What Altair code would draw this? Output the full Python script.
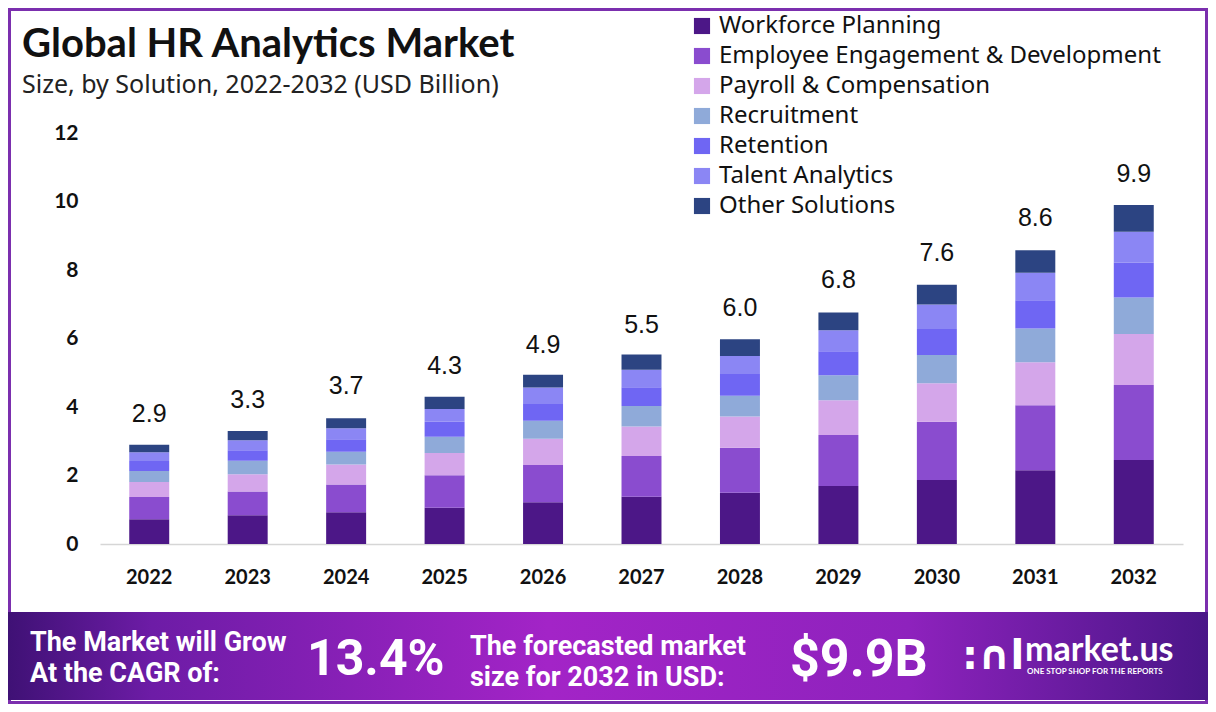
import altair as alt
import pandas as pd

years = ["2022", "2023", "2024", "2025", "2026", "2027", "2028", "2029", "2030", "2031", "2032"]
solutions = ["Workforce Planning", "Employee Engagement & Development", "Payroll & Compensation",
             "Recruitment", "Retention", "Talent Analytics", "Other Solutions"]
colors = ["#4c1787", "#8a4ccf", "#d4a6ea", "#8faad9", "#6f66f3", "#8b86f4", "#2c4482"]

workforce_planning = [0.72, 0.84, 0.93, 1.06, 1.22, 1.38, 1.50, 1.69, 1.87, 2.15, 2.45]
employee_engagement = [0.65, 0.69, 0.81, 0.95, 1.09, 1.19, 1.31, 1.49, 1.70, 1.90, 2.19]
payroll_compensation = [0.44, 0.51, 0.58, 0.65, 0.76, 0.86, 0.91, 1.02, 1.12, 1.26, 1.49]
recruitment = [0.32, 0.39, 0.37, 0.47, 0.53, 0.60, 0.61, 0.73, 0.83, 0.98, 1.07]
retention = [0.29, 0.31, 0.37, 0.44, 0.49, 0.55, 0.63, 0.70, 0.76, 0.83, 1.01]
talent_analytics = [0.26, 0.29, 0.32, 0.37, 0.48, 0.51, 0.53, 0.61, 0.71, 0.80, 0.91]
other_solutions = [0.22, 0.27, 0.29, 0.36, 0.37, 0.44, 0.49, 0.52, 0.58, 0.66, 0.78]
totals = [2.9, 3.3, 3.7, 4.3, 4.9, 5.5, 6.0, 6.8, 7.6, 8.6, 9.9]
y_ticks = [0, 2, 4, 6, 8, 10, 12]

title_text = "Global HR Analytics Market"
subtitle_text = "Size, by Solution, 2022-2032 (USD Billion)"

series = [workforce_planning, employee_engagement, payroll_compensation, recruitment,
          retention, talent_analytics, other_solutions]

rows = []
for si, (name, vals) in enumerate(zip(solutions, series)):
    for y, v in zip(years, vals):
        rows.append({"Year": y, "Solution": name, "Value": v, "Order": si})
df = pd.DataFrame(rows)
tot_df = pd.DataFrame({"Year": years, "Total": totals})

AXIS_FONT = "Lato"
BANNER = "Roboto"

bars = alt.Chart(df).mark_bar().encode(
    x=alt.X("Year:N", sort=years, title=None,
            scale=alt.Scale(paddingInner=0.594, paddingOuter=0.297),
            axis=alt.Axis(labelAngle=0, labelFont=AXIS_FONT, labelFontSize=20, labelFontWeight="bold",
                          labelColor="#111111", labelPadding=23, ticks=False,
                          domainColor="#d6d6d6", domainWidth=1.5)),
    y=alt.Y("Value:Q", stack="zero", title=None,
            scale=alt.Scale(domain=[0, 12], nice=False),
            axis=alt.Axis(values=y_ticks, grid=False, domain=False, ticks=False,
                          labelFont=AXIS_FONT, labelFontSize=21, labelFontWeight="bold",
                          labelColor="#111111", labelPadding=22)),
    color=alt.Color("Solution:N", sort=solutions,
                    scale=alt.Scale(domain=solutions, range=colors),
                    legend=alt.Legend(title=None, orient="none", legendX=590, legendY=-119,
                                      symbolType="square", symbolSize=260, symbolStrokeWidth=0,
                                      labelFont="Noto Sans", labelFontSize=24, labelColor="#111111",
                                      labelOffset=5, rowPadding=6, padding=0, labelLimit=600)),
    order=alt.Order("Order:Q", sort="ascending"),
)

labels = alt.Chart(tot_df).mark_text(
    font="Liberation Sans", fontSize=25, color="#111111", baseline="alphabetic", dy=-23
).encode(
    x=alt.X("Year:N", sort=years),
    y=alt.Y("Total:Q"),
    text=alt.Text("Total:Q", format=".1f"),
)

one = alt.Data(values=[{"k": 1}])

frame = alt.Chart(one).mark_rect(fillOpacity=0, stroke="#7b2fae", strokeWidth=3).encode(
    x=alt.value(-90.5), x2=alt.value(1106.5), y=alt.value(-123.5), y2=alt.value(569.5))

banner = alt.Chart(one).mark_rect(
    color=alt.Gradient(gradient="linear", x1=0, x2=1, y1=0, y2=0,
                       stops=[alt.GradientStop(offset=0, color="#3f1175"),
                              alt.GradientStop(offset=0.12, color="#6d1ca6"),
                              alt.GradientStop(offset=0.45, color="#a324c7"),
                              alt.GradientStop(offset=0.75, color="#8e22bd"),
                              alt.GradientStop(offset=1, color="#4a1688")])
).encode(x=alt.value(-92), x2=alt.value(1108), y=alt.value(479), y2=alt.value(567))


def txt(text, x, y, size, font=BANNER, weight="bold", color="white", align="left", baseline="middle"):
    return alt.Chart(one).mark_text(text=text, font=font, fontSize=size, fontWeight=weight,
                                    color=color, align=align, baseline=baseline).encode(
        x=alt.value(x), y=alt.value(y))


title_marks = [
    txt(title_text, -78, -76, 40, font="Lato", color="#111111", baseline="alphabetic"),
    txt(subtitle_text, -78, -40, 25, font="Noto Sans", weight="normal", color="#222222",
        baseline="alphabetic"),
]

banner_texts = [
    txt("The Market will Grow", -70, 510, 27),
    txt("At the CAGR of:", -70, 541, 27),
    txt("13.4%", 207, 527, 50),
    txt("The forecasted market", 370, 514, 27),
    txt("size for 2032 in USD:", 370, 545, 27),
    txt("$9.9B", 690, 527, 52),
    txt(":\u2229l", 862, 524, 40, font="DejaVu Sans"),
    txt("market.us", 925, 518, 34, font="Lato"),
    txt("ONE STOP SHOP FOR THE REPORTS", 927, 539, 8, font="Lato"),
]

chart = alt.layer(frame, banner, bars, labels, *title_marks, *banner_texts).properties(
    width=1083, height=411,
    padding={"left": 92, "top": 125, "right": 25, "bottom": 160},
    autosize=alt.AutoSizeParams(type="none"),
    background="white",
).configure_view(stroke=None)

chart.save("out.html", embed_options={"renderer": "svg", "actions": False})
